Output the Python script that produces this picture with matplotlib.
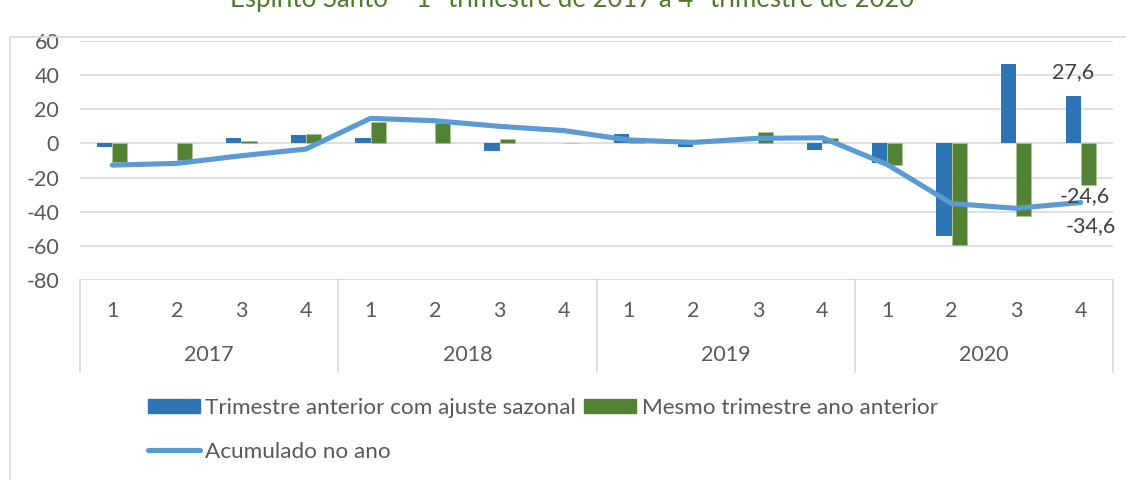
import numpy as np
import matplotlib
matplotlib.use("Agg")
from matplotlib import pyplot as plt
from matplotlib.patches import Rectangle
from matplotlib.lines import Line2D

plt.rcParams['font.family'] = ['Lato', 'DejaVu Sans']
plt.rcParams['axes.unicode_minus'] = False

# === Data ===
years = ["2017", "2018", "2019", "2020"]
quarters = ["1", "2", "3", "4"]
trim_anterior = [-2.0, 0.3, 3.1, 4.7, 3.0, 0.3, -4.3, 0.2,
                 5.5, -2.3, 0.2, -3.6, -11.3, -54.0, 46.5, 27.6]
mesmo_trim = [-11.0, -9.7, 1.6, 5.5, 12.3, 11.7, 2.5, 0.5,
              1.5, 0.3, 6.6, 3.0, -12.7, -59.6, -42.6, -24.6]
acumulado = [-12.7, -11.7, -7.2, -3.3, 14.7, 13.3, 10.0, 7.5,
             2.0, 0.6, 3.0, 3.3, -12.3, -35.2, -38.0, -34.6]

title = "Espírito Santo – 1º trimestre de 2017 a 4º trimestre de 2020"
lbl_blue = "Trimestre anterior com ajuste sazonal"
lbl_green = "Mesmo trimestre ano anterior"
lbl_line = "Acumulado no ano"

c_blue = "#2e75b6"
c_green = "#548235"
c_line = "#5b9bd5"
c_grid = "#d9d9d9"
c_text = "#595959"
fs = 15.5
fs_leg = 16.2

# === Figure ===
W, H = 1126, 480
fig = plt.figure(figsize=(W / 100, H / 100), dpi=100)
ax = fig.add_axes([80 / W, 1 - 280 / H, (1113 - 80) / W, (280 - 41) / H])

x = np.arange(len(trim_anterior))
bw = 0.235
ax.bar(x - bw / 2, trim_anterior, bw, color=c_blue, zorder=2)
ax.bar(x + bw / 2, mesmo_trim, bw, color=c_green, zorder=2,
       edgecolor="#a9c48f", linewidth=0.4)
ax.plot(x, acumulado, color=c_line, lw=3.7, solid_capstyle="round",
        solid_joinstyle="round", zorder=3)

ax.set_xlim(-0.5, len(x) - 0.5)
ax.set_ylim(-80, 60)
ax.set_yticks(range(-80, 61, 20))
ax.yaxis.grid(True, color=c_grid, lw=1.2, zorder=0)
ax.set_axisbelow(True)
for s in ax.spines.values():
    s.set_visible(False)
ax.set_xticks([])
ax.tick_params(axis="y", length=0, pad=15, labelsize=fs, labelcolor=c_text)

# multi-level category axis
trans = ax.get_xaxis_transform()
for i in range(len(x)):
    ax.text(i, -0.13, quarters[i % 4], transform=trans, ha="center",
            va="center", fontsize=fs, color=c_text)
for j, yr in enumerate(years):
    ax.text(j * 4 + 1.5, -0.315, yr, transform=trans, ha="center",
            va="center", fontsize=fs, color=c_text)
for b in [-0.5, 3.5, 7.5, 11.5, 15.5]:
    ax.plot([b, b], [0, -0.385], transform=trans, color=c_grid, lw=1.2,
            clip_on=False)

# data labels on the last quarter
last = len(x) - 1
ax.annotate(f"{trim_anterior[last]:.1f}".replace(".", ","),
            (last - bw / 2, trim_anterior[last]), xytext=(0, 24),
            textcoords="offset pixels", ha="center", va="center",
            fontsize=fs, color="#404040")
ax.annotate(f"{mesmo_trim[last]:.1f}".replace(".", ","),
            (last + bw / 2, mesmo_trim[last]), xytext=(-4, -11),
            textcoords="offset pixels", ha="center", va="center",
            fontsize=fs, color="#404040")
ax.annotate(f"{acumulado[last]:.1f}".replace(".", ","),
            (last, acumulado[last]), xytext=(10, -24),
            textcoords="offset pixels", ha="center", va="center",
            fontsize=fs, color="#404040")

# legend
handles = [Rectangle((0, 0), 1, 1, color=c_blue),
           Rectangle((0, 0), 1, 1, color=c_green)]
fig.legend(handles, [lbl_blue, lbl_green], ncol=2, frameon=False,
           loc="center left", bbox_to_anchor=(148 / W, 1 - 408 / H),
           fontsize=fs_leg, labelcolor=c_text, handlelength=2.3,
           handleheight=0.62, handletextpad=0.25, columnspacing=0.35,
           borderaxespad=0, borderpad=0)
fig.legend([Line2D([0], [0], color=c_line, lw=3.7, solid_capstyle="round")],
           [lbl_line], frameon=False, loc="center left",
           bbox_to_anchor=(148 / W, 1 - 452 / H), fontsize=fs_leg,
           labelcolor=c_text, handlelength=2.3, handletextpad=0.25,
           borderaxespad=0, borderpad=0)

# chart area border and title (cut at the top edge, as in the source)
fig.patches.append(Rectangle((10 / W, -0.1), 1.1, 1 - 37 / H + 0.1,
                             transform=fig.transFigure, fill=False,
                             edgecolor=c_grid, lw=1.2))
fig.text(572 / W, 1 - 7 / H, title, ha="center", va="baseline",
         fontsize=18.5, color="#4e7a2b")

fig.savefig("out.png", dpi=100)
